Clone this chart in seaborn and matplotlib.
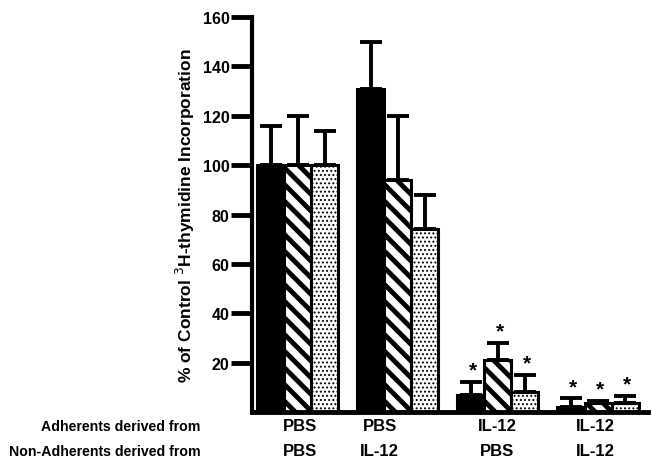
import numpy as np
import pandas as pd
import matplotlib.pyplot as plt
import seaborn as sns
from matplotlib.transforms import blended_transform_factory

# group labels (adherents / non-adherents source)
adherents = ['PBS', 'PBS', 'IL-12', 'IL-12']
non_adherents = ['PBS', 'IL-12', 'PBS', 'IL-12']
groups = ['G1', 'G2', 'G3', 'G4']
series = ['A', 'B', 'C']

# % of control, per series across the four groups
vals = {
    'A': [100, 131, 7, 2],
    'B': [100, 94, 21, 3.5],
    'C': [100, 74, 8, 3.5],
}
errs = {
    'A': [16, 19, 5, 3.5],
    'B': [20, 26, 7, 0.8],
    'C': [14, 14, 7, 3],
}
significant = [False, False, True, True]

rows = []
for s in series:
    for g, v in zip(groups, vals[s]):
        rows.append({'group': g, 'series': s, 'value': v})
df = pd.DataFrame(rows)

sns.set_style('white', {'text.color': 'black', 'axes.labelcolor': 'black',
                        'axes.edgecolor': 'black', 'xtick.color': 'black',
                        'ytick.color': 'black'})
plt.rcParams['font.family'] = ['Liberation Sans', 'DejaVu Sans']
plt.rcParams['hatch.linewidth'] = 3.5

fig = plt.figure(figsize=(6.52, 4.64), dpi=100)
ax = fig.add_axes([0.386, 0.11, 0.608, 0.851])

sns.barplot(data=df, x='group', y='value', hue='series', order=groups,
            hue_order=series, palette=['black', 'white', 'white'],
            width=0.81, edgecolor='black', linewidth=2.2, legend=False,
            errorbar=None, ax=ax, zorder=2)

hatches = {'A': '', 'B': '\\\\', 'C': '....'}
for s, cont in zip(series, ax.containers):
    for i, bar in enumerate(cont):
        bar.set_hatch(hatches[s])
        if s == 'C' and hasattr(bar, 'set_hatch_linewidth'):
            bar.set_hatch_linewidth(0.9)
        cx = bar.get_x() + bar.get_width() / 2
        v = vals[s][i]
        e = errs[s][i]
        ax.errorbar(cx, v, yerr=[[0], [e]], fmt='none', ecolor='black',
                    elinewidth=2.8, capsize=8, capthick=2.8, zorder=1)
        if significant[i]:
            ax.text(cx + 0.02, v + e + 1.0, '*', ha='center', va='bottom',
                    fontsize=15, fontweight='bold', color='black')

ax.set_ylim(0, 160)
ax.set_xlim(-0.46, 3.5)
ax.set_yticks(np.arange(20, 161, 20))
ax.tick_params(axis='y', direction='out', length=15, width=3.5, labelsize=11.5,
               pad=1, left=True, colors='black')
ax.tick_params(axis='x', bottom=False, labelbottom=False)
for lab in ax.get_yticklabels():
    lab.set_fontweight('bold')
ax.set_xlabel('')
ax.set_ylabel('% of Control $^3$H-thymidine Incorporation', fontsize=12.5,
              fontweight='bold', labelpad=4, color='black')
sns.despine(ax=ax)
ax.spines['left'].set_linewidth(3)
ax.spines['bottom'].set_linewidth(3.5)
ax.spines['left'].set_color('black')
ax.spines['bottom'].set_color('black')

trans = blended_transform_factory(ax.transData, fig.transFigure)
label_x = [0.02, 0.82, 1.99, 2.97]
for x, a, n in zip(label_x, adherents, non_adherents):
    ax.text(x, 0.080, a, transform=trans, ha='center', va='center',
            fontsize=12, fontweight='bold', color='black')
    ax.text(x, 0.026, n, transform=trans, ha='center', va='center',
            fontsize=12, fontweight='bold', color='black')
fig.text(0.307, 0.080, 'Adherents derived from', ha='right', va='center',
         fontsize=10.2, fontweight='bold', color='black')
fig.text(0.307, 0.026, 'Non-Adherents derived from', ha='right', va='center',
         fontsize=10.2, fontweight='bold', color='black')

fig.savefig('out.png', dpi=100)
